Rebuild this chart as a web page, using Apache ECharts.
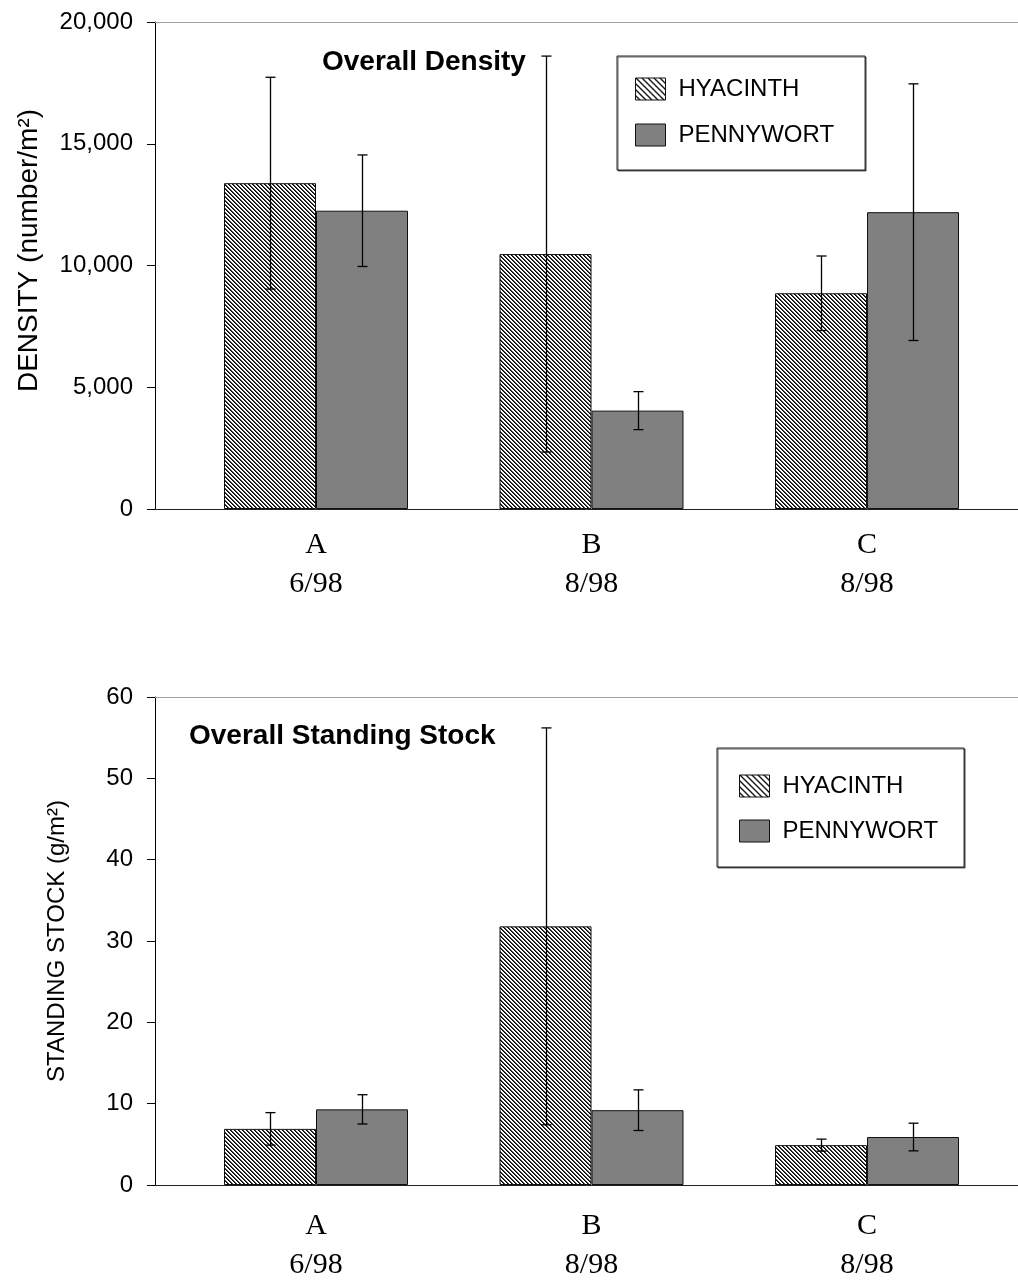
<!DOCTYPE html>
<html>
<head>
<meta charset="utf-8">
<script src="https://cdn.jsdelivr.net/npm/echarts@6/dist/echarts.min.js"></script>
<style>
  html, body { margin: 0; padding: 0; background: #fff; }
  #chart { width: 1018px; height: 1287px; }
</style>
</head>
<body>
<div id="chart"></div>
<script>
// Sampling sites and dates
const sites = ['A', 'B', 'C'];
const dates = ['6/98', '8/98', '8/98'];
const seriesNames = ['HYACINTH', 'PENNYWORT'];

// Overall density (number/m2), mean and error
const densityHyacinth = [13380, 10470, 8860];
const densityHyacinthErr = [4350, 8130, 1530];
const densityPennywort = [12250, 4040, 12190];
const densityPennywortErr = [2290, 780, 5270];

// Overall standing stock (g/m2), mean and error
const stockHyacinth = [6.9, 31.8, 4.9];
const stockHyacinthErr = [2.0, 24.4, 0.74];
const stockPennywort = [9.3, 9.2, 5.9];
const stockPennywortErr = [1.8, 2.5, 1.7];

// Y-axis tick values
const densityTicks = [0, 5000, 10000, 15000, 20000];
const stockTicks = [0, 10, 20, 30, 40, 50, 60];

// ---- styling ----
const SANS = 'Liberation Sans, Arial, sans-serif';
const SERIF = 'Liberation Serif, Times New Roman, serif';
const BAR_W = 92;
const X_MIN = -0.5844, X_MAX = 2.548;
const PENNY_GRAY = '#808080';

function hatch(period, dark) {
  const c = document.createElement('canvas');
  c.width = period; c.height = period;
  const ctx = c.getContext('2d');
  ctx.fillStyle = '#fff';
  ctx.fillRect(0, 0, period, period);
  for (let y = 0; y < period; y++) {
    for (let x = 0; x < period; x++) {
      const d = ((x - y) % period + period) % period;
      if (d < dark.length) {
        ctx.fillStyle = dark[d];
        ctx.fillRect(x, y, 1, 1);
      }
    }
  }
  return { image: c, repeat: 'repeat' };
}
const barHatch = hatch(4, ['#000', '#444']);
const legendHatch = hatch(6, ['#000', '#333']);

const chart = echarts.init(document.getElementById('chart'), null, { renderer: 'canvas' });

function xAxesFor(gi, margin) {
  return [
    {
      type: 'value', gridIndex: gi, min: X_MIN, max: X_MAX, position: 'bottom',
      axisLine: { show: true, onZero: false, lineStyle: { color: '#222', width: 1 } },
      axisTick: { show: false }, splitLine: { show: false },
      axisLabel: {
        customValues: [0, 1, 2],
        formatter: v => sites[Math.round(v)] + '\n' + dates[Math.round(v)],
        fontFamily: SERIF, fontSize: 30, lineHeight: 39, color: '#000', margin: margin
      }
    },
    {
      type: 'value', gridIndex: gi, min: X_MIN, max: X_MAX, position: 'top',
      axisLine: { show: true, onZero: false, lineStyle: { color: '#a0a0a0', width: 1 } },
      axisTick: { show: false }, axisLabel: { show: false }, splitLine: { show: false }
    }
  ];
}

function yAxisFor(gi, ticks, name, nameGap, nameSize, nameShift, fmt) {
  return {
    type: 'value', gridIndex: gi,
    min: ticks[0], max: ticks[ticks.length - 1], interval: ticks[1] - ticks[0],
    axisLine: { show: true, onZero: false, lineStyle: { color: '#000', width: 1 } },
    axisTick: { show: true, length: 8, lineStyle: { color: '#000' } },
    splitLine: { show: false },
    axisLabel: { fontFamily: SANS, fontSize: 24, color: '#000', margin: 22, formatter: fmt },
    name: name, nameLocation: 'middle', nameGap: nameGap,
    nameTextStyle: { fontFamily: SANS, fontSize: nameSize, color: '#000', padding: [0, 0, 0, nameShift] }
  };
}

function barSeries(gi, name, vals, color) {
  return {
    type: 'bar', name: name, xAxisIndex: gi * 2, yAxisIndex: gi,
    data: vals.map((v, i) => [i, v]),
    barWidth: BAR_W, barGap: '0%',
    itemStyle: { color: color, borderColor: '#111', borderWidth: 1 },
    emphasis: { disabled: true }, z: 2
  };
}

function errSeries(gi, vals, errs, side) {
  return {
    type: 'custom', xAxisIndex: gi * 2, yAxisIndex: gi, silent: true, z: 5,
    data: vals.map((v, i) => [i, v - errs[i], v + errs[i]]),
    encode: { x: 0, y: [1, 2] },
    renderItem: function (params, api) {
      const lo = api.coord([api.value(0), api.value(1)]);
      const hi = api.coord([api.value(0), api.value(2)]);
      const x = Math.round(lo[0] + side * BAR_W / 2) + 0.5;
      const cap = 5;
      const st = { stroke: '#000', lineWidth: 1.3 };
      return {
        type: 'group',
        children: [
          { type: 'line', shape: { x1: x, y1: lo[1], x2: x, y2: hi[1] }, style: st },
          { type: 'line', shape: { x1: x - cap, y1: hi[1], x2: x + cap, y2: hi[1] }, style: st },
          { type: 'line', shape: { x1: x - cap, y1: lo[1], x2: x + cap, y2: lo[1] }, style: st }
        ]
      };
    }
  };
}

function legendFor(left, top, padding, gap) {
  return {
    orient: 'vertical', left: left, top: top,
    icon: 'rect',
    itemWidth: 30, itemHeight: 22, itemGap: gap,
    padding: padding,
    borderColor: '#222', borderWidth: 1, backgroundColor: '#fff',
    shadowColor: 'rgba(0,0,0,0.6)', shadowOffsetX: 1, shadowOffsetY: 1, shadowBlur: 0,
    selectedMode: false,
    textStyle: { fontFamily: SANS, fontSize: 24, color: '#000', padding: [0, 0, 0, 8] },
    data: [
      { name: seriesNames[0], itemStyle: { color: legendHatch, borderColor: '#111', borderWidth: 1 } },
      { name: seriesNames[1], itemStyle: { color: PENNY_GRAY, borderColor: '#111', borderWidth: 1 } }
    ]
  };
}

const option = {
  backgroundColor: '#fff',
  animation: false,
  title: [
    { text: 'Overall Density', left: 322, top: 48, padding: 0,
      textStyle: { fontFamily: SANS, fontSize: 28, fontWeight: 'bold', color: '#000' } },
    { text: 'Overall Standing Stock', left: 189, top: 722, padding: 0,
      textStyle: { fontFamily: SANS, fontSize: 28, fontWeight: 'bold', color: '#000' } }
  ],
  legend: [
    legendFor(617, 56, [21, 31, 23, 18], 22),
    legendFor(717, 748, [26, 26, 24, 22], 21)
  ],
  grid: [
    { left: 155, right: 0, top: 22, height: 487 },
    { left: 155, right: 0, top: 697, height: 488 }
  ],
  xAxis: xAxesFor(0, 17).concat(xAxesFor(1, 22)),
  yAxis: [
    yAxisFor(0, densityTicks, 'DENSITY (number/m²)', 112, 28, 30, v => v.toLocaleString('en-US')),
    yAxisFor(1, stockTicks, 'STANDING STOCK (g/m²)', 86, 24, 0, v => String(v))
  ],
  series: [
    barSeries(0, seriesNames[0], densityHyacinth, barHatch),
    barSeries(0, seriesNames[1], densityPennywort, PENNY_GRAY),
    errSeries(0, densityHyacinth, densityHyacinthErr, -1),
    errSeries(0, densityPennywort, densityPennywortErr, 1),
    barSeries(1, seriesNames[0], stockHyacinth, barHatch),
    barSeries(1, seriesNames[1], stockPennywort, PENNY_GRAY),
    errSeries(1, stockHyacinth, stockHyacinthErr, -1),
    errSeries(1, stockPennywort, stockPennywortErr, 1)
  ]
};
chart.setOption(option);
</script>
</body>
</html>
